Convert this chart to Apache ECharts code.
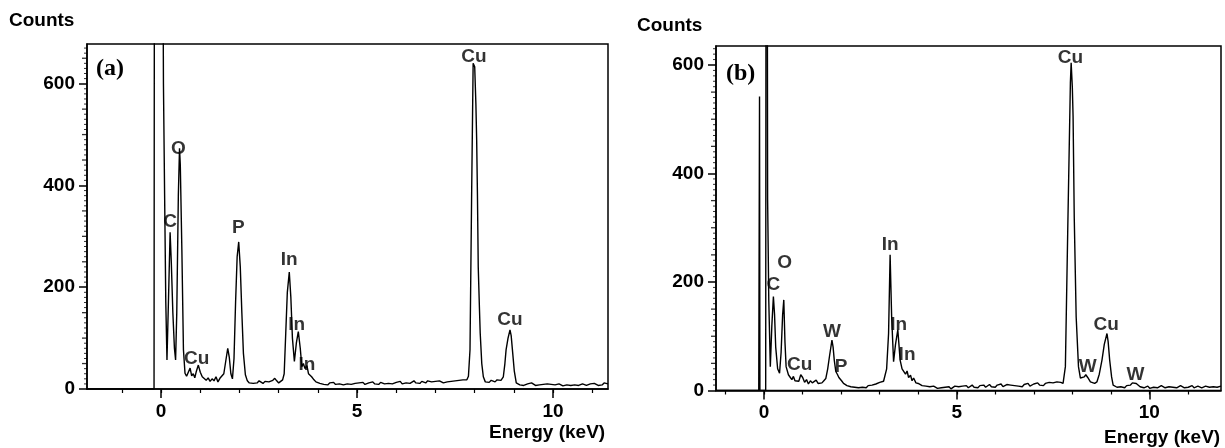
<!DOCTYPE html>
<html><head><meta charset="utf-8">
<script src="https://cdn.jsdelivr.net/npm/echarts/dist/echarts.min.js"></script>
<style>html,body{margin:0;padding:0;background:#fff}#c{width:1225px;height:448px}</style>
</head><body><div id="c"></div>
<script>
// ---------- Panel (a) ----------
const energyA = [-1.89,-0.18,-0.16,0.03,0.06,0.09,0.12,0.15,0.19,0.23,0.26,0.30,0.34,0.37,0.40,0.44,0.47,0.49,0.53,0.57,0.61,0.65,0.70,0.74,0.78,0.82,0.86,0.90,0.95,1.00,1.05,1.10,1.15,1.20,1.25,1.30,1.35,1.40,1.45,1.50,1.55,1.60,1.65,1.70,1.74,1.78,1.82,1.86,1.90,1.94,1.98,2.02,2.06,2.10,2.15,2.20,2.25,2.30,2.35,2.40,2.45,2.50,2.55,2.60,2.65,2.70,2.75,2.80,2.85,2.90,2.95,3.00,3.05,3.10,3.14,3.18,3.22,3.27,3.31,3.35,3.40,3.45,3.50,3.55,3.59,3.63,3.67,3.72,3.76,3.80,3.84,3.90,3.95,4.00,4.05,
4.10,4.15,4.20,4.25,4.30,4.35,4.40,4.45,4.50,4.55,4.60,4.65,4.70,4.75,4.80,4.85,4.90,4.95,5.00,5.05,5.10,5.15,5.20,5.25,5.30,5.35,5.40,5.45,5.50,5.55,5.60,5.65,5.70,5.75,5.80,5.85,5.90,5.95,6.00,6.05,6.10,6.15,6.20,6.25,6.30,6.35,6.40,6.45,6.50,6.55,6.60,6.65,6.70,6.75,6.80,6.85,6.90,6.95,7.00,7.05,7.10,7.15,7.20,7.25,7.30,7.35,7.40,7.45,7.50,7.55,7.60,7.65,7.70,7.75,7.80,
7.84,7.88,7.92,7.96,8.00,8.03,8.05,8.07,8.09,8.12,8.14,8.18,8.22,8.27,8.32,8.37,8.42,8.47,8.52,8.57,8.62,8.67,8.73,8.77,8.80,8.85,8.90,8.93,8.97,9.01,9.06,9.10,
9.15,9.20,9.25,9.30,9.35,9.40,9.45,9.50,9.55,9.60,9.65,9.70,9.75,9.80,9.85,9.90,9.95,10.00,10.05,10.10,10.15,10.20,10.25,10.30,10.35,10.40,10.45,10.50,10.55,10.60,10.65,10.70,10.75,10.80,10.85,10.90,10.95,11.00,11.05,11.10,11.15,11.20,11.25,11.30,11.35,11.40];
const countsA = [0,0,2000,1200,600,380,170,57,180,308,250,150,80,57,150,380,473,440,273,77,31,25,28,41,26,30,22,35,47,33,24,21,17,22,15,20,16,24,14,21,18,30,55,80,62,30,20,60,170,260,289,240,150,70,28,16,12,15,11,14,12,16,13,11,15,12,14,13,17,21,16,12,14,18,30,110,190,230,180,100,54,90,113,80,44,50,40,46,30,28,24,18,14,12,11,
12,9,11,8,12,10,13,9,11,10,12,8,11,10,13,9,12,11,9,12,10,13,9,11,12,10,14,10,12,9,13,11,10,13,11,14,10,12,13,11,15,10,13,12,14,11,13,16,12,14,11,15,13,12,16,13,14,12,15,13,16,14,12,15,14,17,15,18,16,15,17,16,18,20,18,
25,77,371,640,633,560,489,380,240,160,110,50,24,14,16,13,17,15,14,18,16,17,24,50,77,100,116,105,70,35,12,10,
8,11,7,9,10,8,12,9,7,10,8,11,9,7,10,8,9,11,8,7,10,9,6,9,8,10,7,9,8,11,7,9,10,8,7,9,10,8,11,9,7,10,8,12,9,10];
const peakLabelsA = [
  {name:'C', e:0.23, c:329}, {name:'O', e:0.44, c:473}, {name:'Cu', e:0.91, c:60},
  {name:'P', e:1.97, c:316}, {name:'In', e:3.27, c:253}, {name:'In', e:3.46, c:126},
  {name:'In', e:3.72, c:47}, {name:'Cu', e:7.98, c:653}, {name:'Cu', e:8.90, c:136}
];

// ---------- Panel (b) ----------
const energyB = [-1.25,-0.14,-0.12,-0.11,0.04,0.06,0.07,0.09,0.12,0.16,0.20,0.24,0.27,0.30,0.35,0.40,0.44,0.48,0.51,0.54,0.57,0.63,0.68,0.72,0.76,0.80,0.85,0.90,0.95,1.00,1.05,1.10,1.15,1.20,1.25,1.30,1.35,1.40,1.45,1.50,1.55,1.60,1.65,1.70,1.76,1.79,1.82,1.86,1.90,1.94,1.98,2.02,2.06,2.10,2.15,2.20,2.25,2.30,2.35,2.40,2.45,2.50,2.55,2.60,2.65,2.70,2.75,2.80,2.85,2.90,2.95,3.00,3.05,3.10,3.14,3.18,3.23,3.27,3.31,3.36,3.41,3.47,3.53,3.58,3.62,3.67,3.71,3.75,3.80,3.84,3.88,3.94,4.00,4.05,
4.10,4.15,4.20,4.25,4.30,4.35,4.40,4.45,4.50,4.55,4.60,4.65,4.70,4.75,4.80,4.85,4.90,4.95,5.00,5.05,5.10,5.15,5.20,5.25,5.30,5.35,5.40,5.45,5.50,5.55,5.60,5.65,5.70,5.75,5.80,5.85,5.90,5.95,6.00,6.05,6.10,6.15,6.20,6.25,6.30,6.35,6.40,6.45,6.50,6.55,6.60,6.65,6.70,6.75,6.80,6.85,6.90,6.95,7.00,7.05,7.10,7.15,7.20,7.25,7.30,7.35,7.40,7.45,7.50,7.55,7.60,7.65,7.70,
7.76,7.82,7.88,7.95,7.97,8.00,8.02,8.05,8.10,8.16,8.21,8.26,8.31,8.35,8.40,8.47,8.52,8.58,8.64,8.70,8.77,8.83,8.90,8.93,8.97,9.02,9.06,
9.11,9.16,9.21,9.26,9.31,9.36,9.41,9.46,9.51,9.56,9.61,9.66,9.71,9.76,9.81,9.86,9.91,9.96,10.01,10.06,10.11,10.16,10.21,10.26,10.31,10.36,10.41,10.46,10.51,10.56,10.61,10.66,10.71,10.76,10.81,10.86,10.91,10.96,11.01,11.06,11.11,11.16,11.21,11.26,11.31,11.36,11.41,11.46,11.51,11.56,11.61,11.66,11.71,11.76,11.81,11.86];
const countsB = [0,0,542,0,0,2000,2000,352,167,44,120,173,140,80,40,32,70,140,167,90,44,29,24,20,26,18,21,17,29,24,15,20,12,18,14,11,19,13,16,14,18,22,40,65,93,80,56,35,30,24,23,17,13,11,9,10,7,8,6,9,5,7,6,8,5,9,7,10,8,12,11,15,14,17,19,40,105,250,136,53,85,112,56,40,38,30,36,24,28,18,23,14,13,10,
9,7,8,6,7,5,8,6,4,7,5,3,6,4,7,3,6,8,5,7,4,8,6,9,5,7,10,6,8,5,9,7,10,6,8,11,7,9,6,10,8,12,7,9,11,8,10,7,9,12,8,10,7,11,9,13,8,10,12,9,14,10,12,9,13,11,15,12,14,11,16,13,15,
13,44,290,567,604,560,505,320,136,44,23,20,25,29,24,16,14,13,16,30,56,85,105,90,56,25,10,
8,6,9,7,8,5,9,7,10,14,16,13,10,7,9,5,7,8,4,7,6,8,5,7,9,6,5,8,7,4,6,8,5,7,9,6,5,8,6,7,9,5,6,8,7,5,6,8,7,6,9,7,8,6,9,8];
const peakLabelsB = [
  {name:'C', e:0.24, c:195}, {name:'O', e:0.53, c:235}, {name:'Cu', e:0.92, c:47},
  {name:'W', e:1.76, c:109}, {name:'P', e:2.00, c:44}, {name:'In', e:3.27, c:269},
  {name:'In', e:3.49, c:121}, {name:'In', e:3.71, c:65}, {name:'Cu', e:7.95, c:613},
  {name:'W', e:8.40, c:44}, {name:'Cu', e:8.88, c:121}, {name:'W', e:9.64, c:29}
];

// ---------- ticks ----------
const xMajorTicks = [0, 5, 10];
const xMinorTicks = [-1,0,1,2,3,4,5,6,7,8,9,10,11];
const yMajorInterval = 200;
const yMidTicks = [50,100,150,250,300,350,450,500,550,650];
const yMinorTicks = [10,20,30,40,60,70,80,90,110,120,130,140,160,170,180,190,210,220,230,240,260,270,280,290,
  310,320,330,340,360,370,380,390,410,420,430,440,460,470,480,490,510,520,530,540,560,570,580,590,610,620,630,640,660,670];

const FONT = '"Liberation Sans", Arial, sans-serif';
const BLACK = '#000';

function zip(e, c) { return e.map((v, i) => [v, c[i]]); }

function xAxes(gi, min, max) {
  return [
    { gridIndex: gi, type: 'value', position: 'bottom', min: min, max: max,
      axisLine: { show: true, onZero: false, lineStyle: { color: BLACK, width: 1.5 } },
      axisTick: { show: true, customValues: xMinorTicks, length: 4, lineStyle: { color: BLACK, width: 1.2 } },
      axisLabel: { show: false }, splitLine: { show: false } },
    { gridIndex: gi, type: 'value', position: 'bottom', min: min, max: max,
      axisLine: { show: false, onZero: false },
      axisTick: { show: true, customValues: xMajorTicks, length: 9, lineStyle: { color: BLACK, width: 1.5 } },
      axisLabel: { show: true, customValues: xMajorTicks, margin: 13, color: BLACK, fontSize: 19, fontWeight: 'bold', fontFamily: FONT },
      splitLine: { show: false } }
  ];
}
function yAxis(gi, max) {
  return { gridIndex: gi, type: 'value', position: 'left', min: 0, max: max, interval: yMajorInterval,
    axisLine: { show: true, onZero: false, lineStyle: { color: BLACK, width: 1.5 } },
    axisTick: { show: true, length: 8, lineStyle: { color: BLACK, width: 1.5 } },
    axisLabel: { show: true, showMaxLabel: false, margin: 12, color: BLACK, fontSize: 19, fontWeight: 'bold', fontFamily: FONT },
    splitLine: { show: false } };
}
// small y-axis tick marks drawn as short dashes placed through the axis scales at the left edge
function tickSeries(xi, yi, xLeft, values, len, w) {
  return { type: 'scatter', xAxisIndex: xi, yAxisIndex: yi, silent: true, clip: false, z: 5,
    symbol: 'rect', symbolSize: [len, w], symbolOffset: [-len / 2, 0],
    itemStyle: { color: BLACK }, data: values.map(v => [xLeft, v]) };
}
function labelSeries(xi, yi, labels) {
  return { type: 'scatter', xAxisIndex: xi, yAxisIndex: yi, symbolSize: 0, silent: true,
    data: labels.map(l => ({ value: [l.e, l.c], name: l.name })),
    label: { show: true, position: 'inside', formatter: p => p.name, color: '#000',
      fontSize: 19, fontFamily: FONT, fontWeight: 'bold' } };
}

const xMinA = -1.89, xMaxA = 11.4, xMinB = -1.25, xMaxB = 11.86;

const chart = echarts.init(document.getElementById('c'), null, { renderer: 'canvas' });
chart.setOption({
  animation: false,
  backgroundColor: '#fff',
  grid: [
    { left: 87, top: 44, width: 521, height: 345, show: true, borderColor: BLACK, borderWidth: 1.5, backgroundColor: 'transparent' },
    { left: 716, top: 46, width: 505, height: 344.5, show: true, borderColor: BLACK, borderWidth: 1.5, backgroundColor: 'transparent' }
  ],
  xAxis: [].concat(xAxes(0, xMinA, xMaxA), xAxes(1, xMinB, xMaxB)),
  yAxis: [yAxis(0, 678), yAxis(1, 635)],
  graphic: [
    { type: 'text', left: 9, top: 11, style: { text: 'Counts', font: 'bold 19px ' + FONT, fill: BLACK } },
    { type: 'text', left: 637, top: 16, style: { text: 'Counts', font: 'bold 19px ' + FONT, fill: BLACK } },
    { type: 'text', left: 96, top: 57, style: { text: '(a)', font: 'bold 24px "Liberation Serif", "Times New Roman", serif', fill: BLACK } },
    { type: 'text', left: 726, top: 62, style: { text: '(b)', font: 'bold 24px "Liberation Serif", "Times New Roman", serif', fill: BLACK } },
    { type: 'text', left: 489, top: 423, style: { text: 'Energy (keV)', font: 'bold 19px ' + FONT, fill: BLACK } },
    { type: 'text', left: 1104, top: 428, style: { text: 'Energy (keV)', font: 'bold 19px ' + FONT, fill: BLACK } }
  ],
  series: [
    { type: 'line', xAxisIndex: 0, yAxisIndex: 0, data: zip(energyA, countsA), showSymbol: false, clip: true,
      lineStyle: { color: BLACK, width: 1.4 } },
    { type: 'line', xAxisIndex: 2, yAxisIndex: 1, data: zip(energyB, countsB), showSymbol: false, clip: true,
      lineStyle: { color: BLACK, width: 1.4 } },
    tickSeries(0, 0, xMinA, yMinorTicks, 3, 1),
    tickSeries(0, 0, xMinA, yMidTicks, 5, 1.3),
    tickSeries(2, 1, xMinB, yMinorTicks.filter(v => v <= 635), 3, 1),
    tickSeries(2, 1, xMinB, yMidTicks.filter(v => v <= 635), 5, 1.3),
    labelSeries(0, 0, peakLabelsA),
    labelSeries(2, 1, peakLabelsB)
  ]
});
</script></body></html>
